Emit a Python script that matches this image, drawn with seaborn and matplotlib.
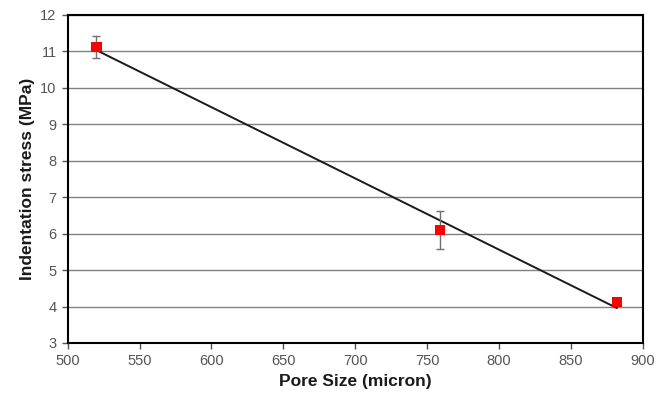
import numpy as np
import pandas as pd
import seaborn as sns
import matplotlib.pyplot as plt

# Data
pore_size = [520, 759, 882]
stress = [11.12, 6.1, 4.13]
stress_err = [0.31, 0.53, 0.1]

df = pd.DataFrame({'pore': pore_size, 'stress': stress, 'err': stress_err})

sns.set_style('white')
plt.rcParams['font.family'] = ['Liberation Sans', 'DejaVu Sans']

fig = plt.figure(figsize=(6.64, 4.03), dpi=100)
ax = fig.add_axes([0.102, 0.149, 0.866, 0.814])

# Gridlines
ax.set_axisbelow(True)
ax.yaxis.grid(True, color='#808080', lw=1)

# Linear trendline
sns.regplot(data=df, x='pore', y='stress', ci=None, scatter=False, ax=ax,
            line_kws={'color': '#1a1a1a', 'lw': 1.4})

# Error bars and markers
ax.errorbar(df['pore'], df['stress'], yerr=df['err'], fmt='none',
            ecolor='#707070', elinewidth=1, capsize=3, capthick=1, zorder=3)
sns.scatterplot(data=df, x='pore', y='stress', marker='s', color='#ff0000',
                s=55, edgecolor='none', ax=ax, zorder=4)

ax.set_xlim(500, 900)
ax.set_ylim(3, 12)
ax.set_xticks(np.arange(500, 901, 50))
ax.set_yticks(np.arange(3, 13, 1))

for s in ax.spines.values():
    s.set_color('black')
    s.set_linewidth(1.5)

ax.tick_params(axis='both', which='both', direction='out', length=4, width=1,
               color='#555555', labelcolor='#555555', labelsize=10.5, pad=4)
ax.tick_params(bottom=True, left=True)

ax.set_xlabel('Pore Size (micron)', fontsize=12.5, fontweight='bold', color='#1a1a1a')
ax.set_ylabel('Indentation stress (MPa)', fontsize=12.5, fontweight='bold', color='#1a1a1a')

fig.savefig('out.png', dpi=100)
